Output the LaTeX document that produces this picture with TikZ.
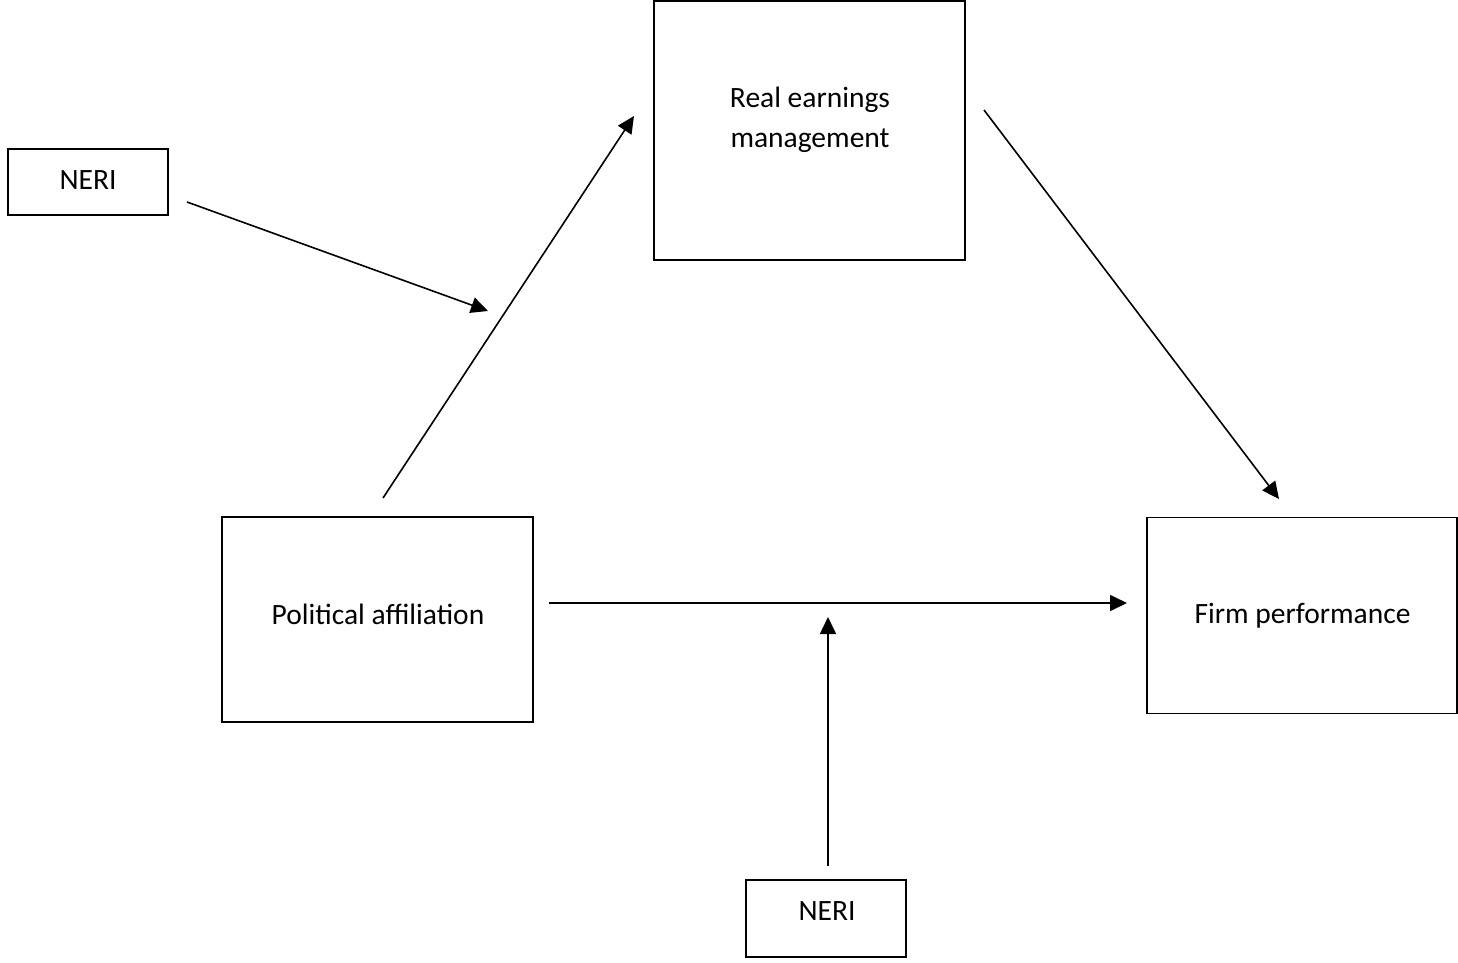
\documentclass[tikz,border=0pt]{standalone}
\usepackage{fontspec}
\setmainfont{Carlito}
\usetikzlibrary{arrows.meta}
\begin{document}
\begin{tikzpicture}[x=1pt,y=-1pt,
  box/.style={draw=black,line width=1.6pt,inner sep=0pt},
  txt/.style={inner sep=0pt,align=center,font=\fontsize{29.5}{40}\selectfont},
  conn/.style={line width=1.6pt,-{Triangle[length=17pt,width=16pt]}}]
\useasboundingbox[fill=white] (0,0) rectangle (1458,963);
\node[box,minimum width=160pt,minimum height=66pt] (neri1) at (88,182) {};
\node[txt] (neri1t) at (88,180) {NERI};
\node[box,minimum width=311pt,minimum height=259pt] (rem) at (809.5,130.5) {};
\node[txt] (remt) at (810,120) {Real earnings\\management};
\node[box,minimum width=311pt,minimum height=205pt] (pa) at (377.5,619.5) {};
\node[txt] (pat) at (378,614) {Political affiliation};
\node[box,minimum width=310pt,minimum height=196pt] (fp) at (1302,615.5) {};
\node[txt] (fpt) at (1302.5,616) {Firm performance};
\node[box,minimum width=160pt,minimum height=77pt] (neri2) at (826,918.5) {};
\node[txt] (neri2t) at (827,911) {NERI};
\coordinate (a1s) at (187,202);
\coordinate (a1e) at (488,311);
\coordinate (a2s) at (383,498);
\coordinate (a2e) at (634,116);
\coordinate (a3s) at (984,110);
\coordinate (a3e) at (1279,499);
\coordinate (a4s) at (549,603);
\coordinate (a4e) at (1127,603);
\coordinate (a5s) at (828,866);
\coordinate (a5e) at (828,617);
\draw[conn] (a1s) -- (a1e);
\draw[conn] (a2s) -- (a2e);
\draw[conn] (a3s) -- (a3e);
\draw[conn] (a4s) -- (a4e);
\draw[conn] (a5s) -- (a5e);
\end{tikzpicture}
\end{document}
